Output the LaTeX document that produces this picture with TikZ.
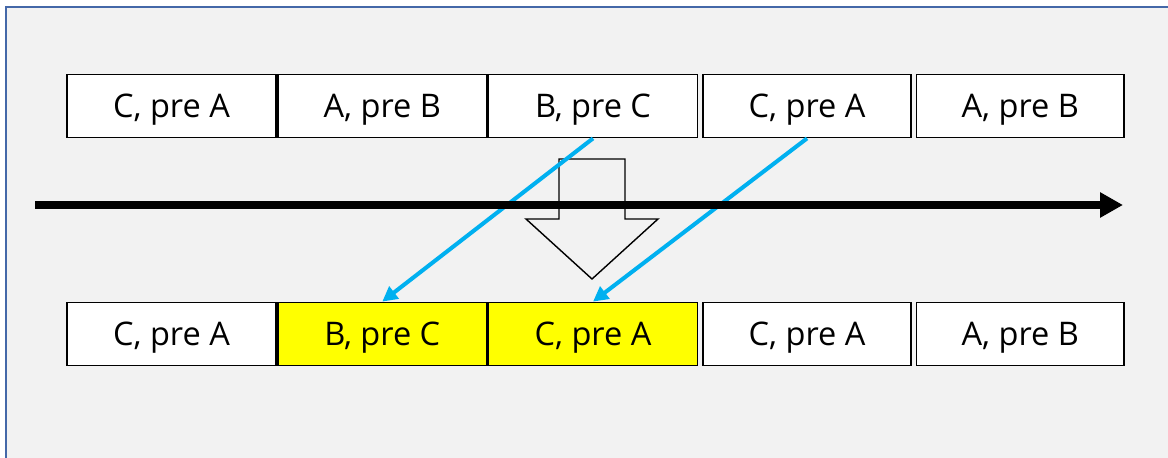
\documentclass[tikz,border=0pt]{standalone}
\usepackage{fontspec}
\setmainfont{Open Sans}
\usepackage{xcolor}
\usetikzlibrary{positioning,arrows.meta}

\definecolor{frameblue}{RGB}{68,104,168}
\definecolor{panelgray}{RGB}{242,242,242}
\definecolor{moveblue}{RGB}{0,176,240}
\definecolor{hilite}{RGB}{255,255,0}

\begin{document}
\begin{tikzpicture}[
  slot/.style={draw=black, fill=white, line width=1pt, minimum width=4.18cm,
    minimum height=1.26cm, inner sep=0pt, text height=0.48cm, text depth=0.02cm,
    font=\fontsize{18.5}{22}\selectfont},
  narrow/.style={slot, minimum width=4.15cm},
  moved/.style={slot, fill=hilite},
  movearrow/.style={-{Triangle[length=0.3cm,width=0.3cm]}, draw=moveblue, line width=2.3pt}
]
  \useasboundingbox (0,0) rectangle (23.36,9.16);
  \draw[draw=frameblue, fill=panelgray, line width=1.6pt] (0.12,-1) rectangle (24,9.02);

  % top row
  \node[slot] (t1) at (3.43,7.04) {C, pre A};
  \node[slot, right=0pt of t1] (t2) {A, pre B};
  \node[slot, right=0pt of t2] (t3) {B, pre C};
  \node[narrow, right=0.08cm of t3] (t4) {C, pre A};
  \node[narrow, right=0.08cm of t4] (t5) {A, pre B};

  % bottom row
  \node[slot] (b1) at (3.43,2.48) {C, pre A};
  \node[moved, right=0pt of b1] (b2) {B, pre C};
  \node[moved, right=0pt of b2] (b3) {C, pre A};
  \node[narrow, right=0.08cm of b3] (b4) {C, pre A};
  \node[narrow, right=0.08cm of b4] (b5) {A, pre B};

  % hollow block arrow
  \draw[line width=0.8pt] (11.18,5.98) -- (12.50,5.98) -- (12.50,4.78) -- (13.16,4.78)
    -- (11.84,3.58) -- (10.52,4.78) -- (11.18,4.78) -- cycle;

  \draw[movearrow] (t3.south) -- (b2.north);
  \draw[movearrow] (t4.south) -- (b3.north);

  % time line
  \coordinate (tl) at (0.7,5.06);
  \coordinate (tr) at (22.46,5.06);
  \draw[line width=4.5pt, -{Triangle[length=0.46cm,width=0.48cm]}] (tl) -- (tr);
\end{tikzpicture}
\end{document}
